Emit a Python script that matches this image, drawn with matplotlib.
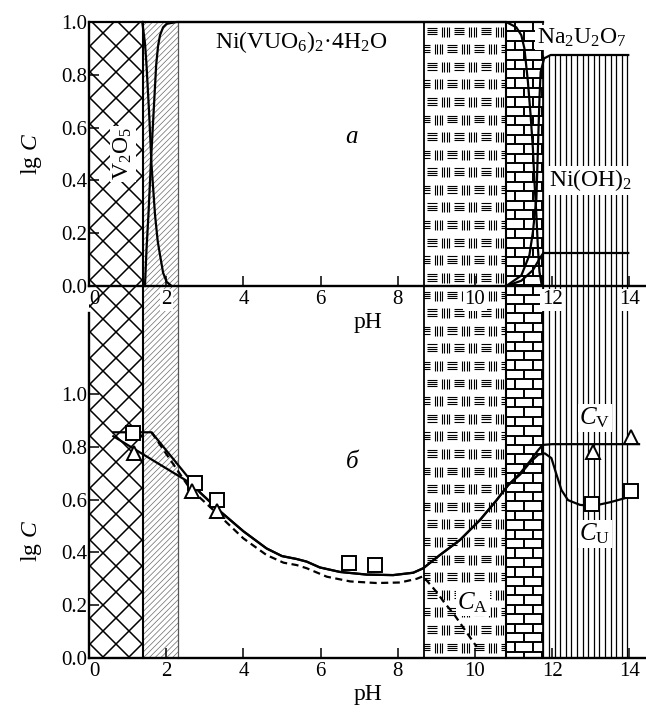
import matplotlib
matplotlib.use('Agg')
import matplotlib.pyplot as plt
from matplotlib.collections import LineCollection
from matplotlib.patches import Rectangle

plt.rcParams['font.family'] = ['Liberation Serif', 'DejaVu Serif']
plt.rcParams['mathtext.fontset'] = 'custom'
plt.rcParams['mathtext.rm'] = 'Liberation Serif'
plt.rcParams['mathtext.it'] = 'Liberation Serif:italic'

# ---------------- data ----------------
# panel a (top): phase fields
v2o5_ph = [1.38, 1.45, 1.49, 1.56, 1.62, 1.71, 1.78, 1.84, 1.92, 2.01, 2.14]
v2o5_c = [1.0, 0.92, 0.837, 0.648, 0.458, 0.27, 0.17, 0.117, 0.05, 0.016, 0.0]

nivuo_ph = [1.45, 1.49, 1.54, 1.60, 1.67, 1.74, 1.79, 1.84, 1.92, 2.01, 2.27,
            10.81, 11.07, 11.2, 11.28, 11.37, 11.44, 11.5, 11.54, 11.59, 11.63,
            11.67, 11.72, 11.77]
nivuo_c = [0.0, 0.14, 0.27, 0.458, 0.648, 0.837, 0.91, 0.95, 0.98, 0.993, 1.0,
           1.0, 0.98, 0.95, 0.90, 0.775, 0.648, 0.52, 0.395, 0.27, 0.143,
           0.054, 0.01, 0.0]

nau_ph = [10.81, 11.2, 11.41, 11.5, 11.59, 11.63, 11.67, 11.7, 11.79, 11.96, 13.97]
nau_c = [0.0, 0.04, 0.117, 0.205, 0.33, 0.52, 0.71, 0.81, 0.862, 0.875, 0.875]

nioh_ph = [10.81, 11.2, 11.5, 11.7, 11.77, 13.97]
nioh_c = [0.0, 0.02, 0.06, 0.11, 0.125, 0.125]

# panel b (bottom): concentrations
cv_ph = [0.63, 2.6, 2.89, 3.41, 4.0, 4.6, 5.0, 5.38, 5.64, 5.98, 6.5, 7.19, 7.88,
         8.4, 8.66, 9.09, 9.61, 10.13, 10.56, 10.86, 11.17, 11.42, 11.64, 11.75,
         12.0, 14.25]
cv_c = [0.84, 0.665, 0.625, 0.554, 0.48, 0.415, 0.386, 0.375, 0.365, 0.343, 0.326,
        0.316, 0.314, 0.323, 0.34, 0.39, 0.447, 0.523, 0.598, 0.655, 0.70, 0.745,
        0.788, 0.807, 0.81, 0.81]

cu_ph = [0.63, 1.62, 2.66, 2.89, 3.41, 4.0, 4.6, 5.0, 5.38, 5.64, 5.98, 6.5, 7.19,
         7.88, 8.4, 8.66, 9.09, 9.61, 10.13, 10.56, 10.86, 11.17, 11.42, 11.64,
         11.81, 11.98, 12.1, 12.24, 12.41, 12.72, 13.06, 13.5, 14.0, 14.05]
cu_c = [0.855, 0.855, 0.668, 0.625, 0.554, 0.48, 0.415, 0.386, 0.375, 0.365,
        0.343, 0.326, 0.316, 0.314, 0.323, 0.34, 0.39, 0.447, 0.523, 0.598, 0.655,
        0.695, 0.74, 0.77, 0.775, 0.757, 0.70, 0.636, 0.598, 0.58, 0.576, 0.59,
        0.61, 0.625]

ca_ph = [1.62, 2.6, 2.89, 3.41, 4.0, 4.6, 5.04, 5.38, 5.64, 6.16, 6.77, 7.45, 8.06,
         8.49, 8.66, 8.74, 9.0, 9.22, 9.44, 10.04]
ca_c = [0.855, 0.645, 0.605, 0.535, 0.453, 0.39, 0.361, 0.352, 0.34, 0.308, 0.29,
        0.284, 0.286, 0.3, 0.31, 0.295, 0.251, 0.207, 0.169, 0.043]

u_exp_ph = [1.15, 2.74, 3.31, 6.74, 7.41, 13.04, 14.03]
u_exp_c = [0.853, 0.662, 0.60, 0.358, 0.354, 0.585, 0.634]
v_exp_ph = [1.17, 2.68, 3.31, 13.05, 14.05]
v_exp_c = [0.775, 0.634, 0.557, 0.78, 0.836]

# phase region boundaries (pH)
cross_rng = (0.0, 1.4)
diag_rng = (1.4, 2.3)
basket_rng = (8.68, 10.8)
brick_rng = (10.8, 11.77)
vline_rng = (11.77, 13.97)
vline_top = 0.875

xticks = [0, 2, 4, 6, 8, 10, 12, 14]
yticks = [0.0, 0.2, 0.4, 0.6, 0.8, 1.0]
ytick_labels = ['0.0', '0.2', '0.4', '0.6', '0.8', '1.0']

# ---------------- geometry ----------------
W, H = 646, 723
X0, XR = 89, 646
XMAX = 14.43
PXU = (XR - X0) / XMAX
YT0, YB0, YU = 286, 658, 264
TOP = 22
BYMAX = 1.307

fig = plt.figure(figsize=(W / 100, H / 100), dpi=100)

bg = fig.add_axes([0, 0, 1, 1], zorder=0)
bg.set_xlim(0, W)
bg.set_ylim(H, 0)
bg.axis('off')

def px(ph):
    return X0 + ph * PXU

def yt(v):
    return YT0 - v * YU

def add_lines(segs, rect, lw, color='black'):
    lc = LineCollection(segs, linewidths=lw, colors=color, capstyle='butt')
    bg.add_collection(lc)
    lc.set_clip_path(rect)

def region_rect(x1, x2, y1, y2):
    r = Rectangle((x1, y1), x2 - x1, y2 - y1, facecolor='white',
                  edgecolor='none', transform=bg.transData)
    bg.add_patch(r)
    return r

# crosshatch
xa, xb = px(cross_rng[0]), px(cross_rng[1])
r = region_rect(xa, xb, TOP, YB0)
segs = []
for k in range(-40, 40):
    c = -70 + 26 * k
    segs.append([(xa - 5, xa - 5 + c), (xb + 5, xb + 5 + c)])
    d = 136 + 26 * k
    segs.append([(xa - 5, -(xa - 5) + d), (xb + 5, -(xb + 5) + d)])
add_lines(segs, r, 1.1)

# diagonal fine hatch
xa, xb = px(diag_rng[0]), px(diag_rng[1])
r = region_rect(xa, xb, TOP, YB0)
segs = []
d = xa + TOP - 60
while d < xb + YB0 + 60:
    segs.append([(xa - 2, -(xa - 2) + d), (xb + 2, -(xb + 2) + d)])
    d += 5.8
add_lines(segs, r, 0.5, '#6a6a6a')

# basket weave
xa, xb = px(basket_rng[0]), px(basket_rng[1])
r = region_rect(xa, xb, TOP, YB0)
segs = []
row_h = 17.6
blk = 13.5
row = 0
y = TOP + 3
while y < YB0:
    off = (blk / 2 if row % 2 else 0.0)
    x = xa + 3 - off
    j = 0
    while x < xb:
        if j % 2 == 0:
            for i in range(4):
                yy = y + 2.5 + i * 2.3
                segs.append([(x, yy), (x + 9.5, yy)])
        else:
            for i in range(4):
                xx = x + 1 + i * 2.5
                segs.append([(xx, y + 1.5), (xx, y + 11.5)])
        x += blk
        j += 1
    y += row_h
    row += 1
add_lines(segs, r, 0.8)

# bricks
xa, xb = px(brick_rng[0]), px(brick_rng[1])
r = region_rect(xa, xb, TOP, YB0)
segs = []
bh = 9.4
bw = 18.0
row = 0
y = TOP
while y < YB0:
    segs.append([(xa, y), (xb, y)])
    off = bw / 2 if row % 2 else 0.0
    x = xa + 9 + off
    while x < xb:
        segs.append([(x, y), (x, y + bh)])
        x += bw
    y += bh
    row += 1
add_lines(segs, r, 1.4)

# vertical lines
xa, xb = px(vline_rng[0]), px(vline_rng[1])
r = region_rect(xa - 1, xb + 1, yt(vline_top), YB0)
segs = []
x = xa
while x <= xb + 0.5:
    segs.append([(x, yt(vline_top)), (x, YB0)])
    x += 5.6
add_lines(segs, r, 0.9)

# region borders
bg.plot([px(1.4)] * 2, [TOP, YB0], color='black', lw=1.5)
bg.plot([px(2.3)] * 2, [TOP, YB0], color='#555555', lw=0.9)
bg.plot([px(basket_rng[0])] * 2, [TOP, YB0], color='black', lw=1.3)
bg.plot([px(brick_rng[0])] * 2, [TOP, YB0], color='black', lw=1.5)
bg.plot([px(brick_rng[1])] * 2, [TOP, YB0], color='black', lw=1.2)
bg.plot([px(0), px(brick_rng[1])], [TOP, TOP], color='black', lw=1.6)

# ---------------- data axes ----------------
axt = fig.add_axes([X0 / W, (H - YT0) / H, (XR - X0) / W, YU / H], zorder=2)
axb = fig.add_axes([X0 / W, (H - YB0) / H, (XR - X0) / W, BYMAX * YU / H], zorder=2)

wb = dict(facecolor='white', edgecolor='none', pad=1.0)

for ax, ymax in ((axt, 1.0), (axb, BYMAX)):
    ax.set_facecolor('none')
    ax.set_xlim(0, XMAX)
    ax.set_ylim(0, ymax)
    ax.spines['top'].set_visible(False)
    ax.spines['right'].set_visible(False)
    for s in ('left', 'bottom'):
        ax.spines[s].set_linewidth(1.7)
    ax.set_xticks(xticks)
    ax.set_yticks(yticks)
    ax.set_yticklabels(ytick_labels)
    ax.tick_params(direction='in', length=7.5, width=1.1, labelsize=15)
    ax.tick_params(axis='y', pad=1)
    ax.tick_params(axis='x', pad=3)
    ax.set_xlabel('pH', fontsize=17, labelpad=2)
    ax.set_ylabel(r'lg $C$', fontsize=17)
    ax.xaxis.get_major_ticks()[0].label1.set_horizontalalignment('left')

axt.yaxis.set_label_coords(-0.08, 0.5)
axb.yaxis.set_label_coords(-0.08, 0.34)

for t in axt.xaxis.get_major_ticks()[1:]:
    t.label1.set_bbox(wb)

lkw = dict(color='black', lw=1.6, clip_on=False, zorder=5)
axt.plot(v2o5_ph, v2o5_c, **lkw)
axt.plot(nivuo_ph, nivuo_c, **lkw)
axt.plot(nau_ph, nau_c, **lkw)
axt.plot(nioh_ph, nioh_c, **lkw)

axt.text(5.49, 0.925, r'Ni(VUO$_6$)$_2$·4H$_2$O', fontsize=17, ha='center', va='center')
axt.text(6.81, 0.565, 'а', fontsize=18, style='italic', ha='center', va='center')
axt.text(0.88, 0.5, r'V$_2$O$_5$', fontsize=17, rotation=90, ha='center', va='center', bbox=wb)
axt.text(12.76, 0.94, r'Na$_2$U$_2$O$_7$', fontsize=17, ha='center', va='center', bbox=wb)
axt.text(12.98, 0.40, r'Ni(OH)$_2$', fontsize=17, ha='center', va='center', bbox=wb)

axb.plot(cv_ph, cv_c, **lkw)
axb.plot(cu_ph, cu_c, **lkw)
axb.plot(ca_ph, ca_c, color='black', lw=1.6, dashes=(3.2, 2.0), clip_on=False, zorder=5)
axb.plot(u_exp_ph, u_exp_c, linestyle='none', marker='s', ms=9.5, mfc='white',
         mec='black', mew=1.4, zorder=6, clip_on=False)
axb.plot(v_exp_ph, v_exp_c, linestyle='none', marker='^', ms=10.5, mfc='white',
         mec='black', mew=1.4, zorder=6, clip_on=False)

axb.text(6.81, 0.742, 'б', fontsize=18, style='italic', ha='center', va='center')
axb.text(13.1, 0.91, r'$C_{\mathrm{V}}$', fontsize=18, ha='center', va='center', bbox=wb)
axb.text(13.1, 0.47, r'$C_{\mathrm{U}}$', fontsize=18, ha='center', va='center', bbox=wb)
axb.text(9.95, 0.21, r'$C_{\mathrm{A}}$', fontsize=18, ha='center', va='center', bbox=wb)

fig.savefig('out.png', dpi=100)
